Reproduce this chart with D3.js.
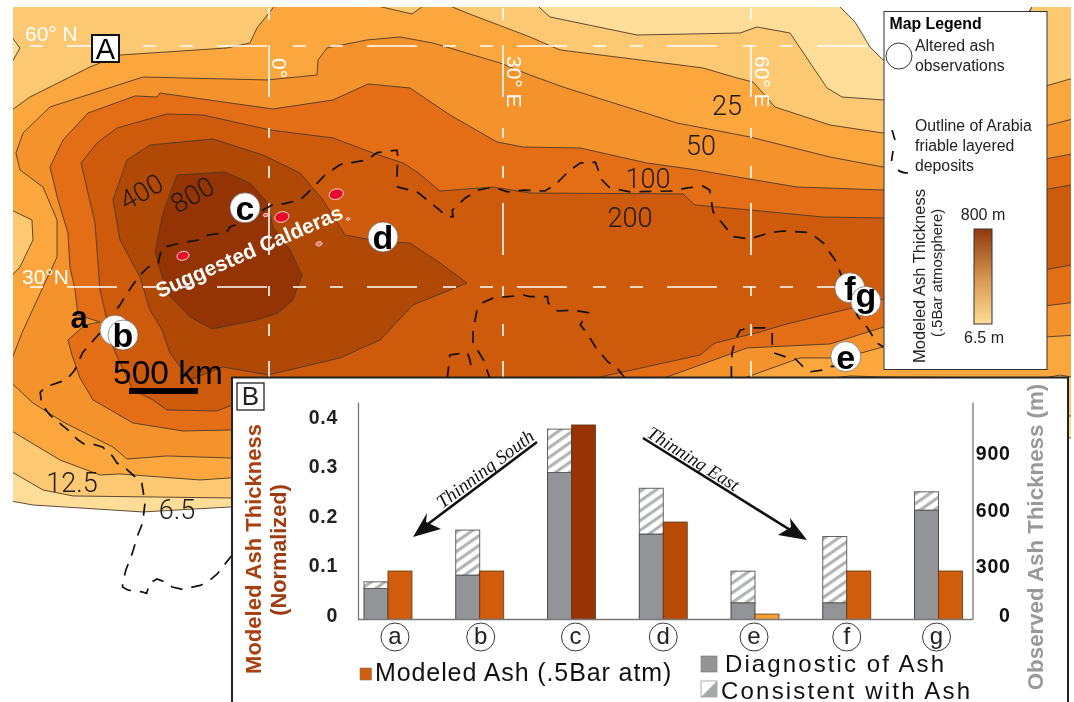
<!DOCTYPE html>
<html>
<head>
  <meta charset="utf-8">
  <title>Modeled Ash Thickness</title>
  <script src="https://d3js.org/d3.v7.min.js"></script>
  <style>
    html, body { margin: 0; padding: 0; background: #fff; }
    svg { display: block; font-family: "Liberation Sans", sans-serif; filter: blur(0.4px); }
    .axis text { font-family: "Liberation Sans", sans-serif; }
  </style>
</head>
<body>
<div id="chart"></div>
<script>

// Panel B values
var sites = ["a", "b", "c", "d", "e", "f", "g"];
var modeled = [0.098, 0.098, 0.393, 0.197, 0.011, 0.098, 0.098];
var diagnostic = [165, 236, 781, 454, 89, 89, 581];
var consistent = [35, 239, 230, 243, 168, 352, 97];
var leftTicks = [0, 0.1, 0.2, 0.3, 0.4];
var rightTicks = [0, 300, 600, 900];

// Panel A contours, [lon, lat] in degrees, thinnest first
var contourLevels = ["6.5", "12.5", "25", "50", "100", "200", "400", "800"];
var contourColors = ["#fedd98", "#fdc872", "#fba73e", "#f4922c", "#e36e16", "#ce5a0b", "#b04806", "#943304"];

var contour6 = [[-33,3.38],[-29.5,2.75],[-15.75,1.88],[-4.88,2.5],[41.38,3.38],[101,11.25],[101,66],[95.75,66],[95.25,64.75],[91.38,60.88],[76.75,58.38],[75.13,60],[73.25,63.13],[70.38,66],[-33,66]];
var contour12 = [[-33,7.38],[-28.25,4.63],[-24.5,3.88],[-4.88,3.63],[41.38,5.88],[101,14],[101,66],[95.75,66],[95.25,64.75],[91.38,58.38],[76.75,53.38],[71.63,53.75],[69.75,54.88],[65.13,61.75],[61,62.5],[58.88,61.75],[46,61.5],[35.13,63.75],[32.63,66],[-33,66],[-33,62.38],[-31.13,59.88],[-33,56.5]];
var contour25 = [[-33,12.5],[-26.13,8.38],[-21.13,6.5],[-18.63,6.63],[-8.63,5.88],[-4.88,6.13],[53.88,13.38],[66.38,18.13],[72.63,18.88],[76.75,18.75],[97,18.63],[98.88,19],[101,18.63],[101,56.25],[76.75,49.25],[70.13,50.25],[63.25,52.5],[60.5,55.63],[58.5,56.13],[54.25,57.38],[46.38,58.38],[36.38,59.63],[32.63,61.25],[24.75,64.25],[20.5,66],[17.88,64.13],[9.75,66],[1.38,66],[-1.5,62.38],[-2.38,60.5],[-5.25,59.88],[-18.63,59],[-22.38,57.5],[-29.88,53.75],[-33,51.5],[-33,40],[-29.63,38.38],[-29.5,35.88],[-31.13,32.5],[-33,30.5]];
var contour50 = [[-33,18.75],[-29.5,15.5],[-25.75,13.13],[-19.5,10],[-17.75,8.5],[-12.75,8.88],[-4.88,8.63],[53.88,15.88],[59.75,18.75],[66.38,21.13],[71.75,21.13],[76.75,22.5],[101,24],[101,51.13],[76.75,45],[70.13,46.25],[60.13,48.75],[51,50.5],[36.75,55],[32.63,56.5],[28.88,58],[20.5,60.5],[16.38,61.25],[12.25,60.88],[7.25,59.88],[6.13,58.38],[6,56.5],[-0.25,55.88],[-15.75,56.25],[-27.38,52.5],[-30.75,49.25],[-31.63,46.75],[-31.13,44.63],[-28.25,42.5],[-26.5,38.38],[-26.5,33.75],[-28.25,30],[-30.88,24.25]];
var contour100 = [[-27.38,45],[-25.75,48.38],[-22.63,51.75],[-16.75,53.88],[-14,53.75],[-13.63,54.25],[0.5,52.25],[8,53.38],[12.38,55.38],[17.63,54.88],[22.63,51.5],[28.5,48.13],[31.75,47.5],[38.88,47.38],[47.25,45.5],[53.5,44.63],[59.25,43.63],[66,42.5],[76.75,42.13],[101,46.75],[101,28.13],[77.63,25.25],[70.13,22.88],[59.75,22.38],[49.75,18.75],[41.38,15.88],[-4.88,12.13],[-10.75,12],[-17,13],[-22,15.88],[-23.63,18.63],[-24.63,21.5],[-25.13,23.38],[-23,25.25],[-21.13,25.63],[-23.88,26.5],[-24.25,29.63],[-24.88,32.5],[-25.13,36.75],[-26.38,40.88]];
var contour200 = [[-23.5,45.5],[-21.5,48],[-19,49.88],[-12.75,51.63],[-8.25,51.5],[0.13,49.63],[8,48.63],[13,46.75],[16.75,45.5],[18.5,44.38],[21.38,42],[28,42.5],[32.63,41.75],[51.75,41.63],[53.25,40.25],[60.13,39.63],[69.25,38.75],[76.75,38.63],[101,42.88],[101,32.88],[76.38,28.38],[72.88,27.38],[64.25,25.25],[61.38,24.38],[55.75,23],[53.88,21.5],[41.38,18.75],[35.13,16.5],[-4.63,15.25],[-6.5,14.5],[-12.75,14.63],[-14.5,15.88],[-17,17.13],[-18.63,20.5],[-19.5,22.5],[-20.25,25.88],[-21.13,29.63],[-21.75,38]];
var contour400 = [[-19.5,40.88],[-17.75,45.88],[-14.88,47.75],[-7,48.5],[-0.75,46.5],[3.88,44.25],[6.75,40.88],[9.5,36.5],[14.25,35.63],[17.63,35.5],[21.38,33],[24.75,30.5],[18,27.75],[13.88,23.38],[8.88,21.13],[-0.13,19],[-5.75,20],[-9.88,18.38],[-12.38,21.75],[-13.38,24.63],[-14.88,27.13],[-16.13,31.25],[-18.63,35.88]];
var contour800 = [[-14.25,34.38],[-13.25,39.25],[-11.5,44],[-5.5,44.38],[-2.38,43],[-0.25,40.63],[0.5,37.5],[2.63,34.63],[4.13,31.5],[3,28.38],[1.13,26.75],[-1.5,25.88],[-7.13,24.75],[-9.88,26.25],[-12.75,29.25],[-13.88,33.13]];
var contours = [contour6, contour12, contour25, contour50, contour100, contour200, contour400, contour800];

// Outline of the Arabia friable layered deposits, in pieces
var outlineMain = [[-4.6,-3.5],[-5.8,-5],[-6.5,-5.9],[-7.6,-6.8],[-8.6,-7.3],[-10.8,-7.8],[-12.1,-7.5],[-12.9,-6.9],[-14,-6.5],[-14.9,-7],[-15.3,-8.3],[-15.9,-8.1],[-17.6,-7.9],[-18.3,-7.5],[-18.3,-7],[-17.9,-5.4],[-17.1,-3.3],[-16.4,-1],[-15.8,0.5],[-15.5,3],[-15.9,5.5],[-17,6.5],[-18,7.4],[-19,8],[-19.6,8.9],[-20.8,10],[-21.8,10.3],[-23,10.3],[-23.9,10.9],[-25.1,12.1],[-27.4,14],[-28.4,15.3],[-28.6,16.8],[-28,17.5],[-25.3,18.4],[-24.3,19.6],[-23.3,21.8],[-21.1,24.3],[-18.6,27.8],[-18,28.8],[-17,30.3],[-16.1,31.5],[-15.1,32.5],[-13.9,32.8],[-13.4,34.9],[-11.1,35.5],[-8.6,35.9],[-7.6,36.5],[-5.3,36.8],[-4.9,37.5],[-3.9,37.9],[-0.8,39.6],[0.5,40.3],[1.8,40.4],[3.9,40.9],[5.5,42.4],[7,44],[8.9,45.3],[12.3,45.9],[13.5,46.8],[16,47.1],[16.1,46.3],[16,44],[16.1,42.5],[18.5,41.9],[20.5,40.3],[22.3,38.8],[23,38.8],[22.9,39.6],[24.5,41.1],[26.1,42.1],[28,42.5],[29.8,41.9],[31.8,42.1],[34.5,42],[35.8,42.8],[37.6,44.6],[38.9,45.5],[40.8,45.6],[41.6,43.4],[42.6,42.4],[45.1,41.9],[50.5,42],[52.3,42.4],[54.3,42.6],[55.1,42.1],[55.5,39.4],[58,36.3],[60.1,36],[62.6,36.8],[64.3,37],[67.6,36.8],[69.3,35.5],[71,33],[71.4,31.8],[73.6,26.3],[74.8,24.9],[76,23],[76.8,22.5]];
var outlineEast = [[57.8,18.6],[57.8,20.6],[57.9,21.9],[58.3,23.4],[58.9,24.6],[60.1,24.9],[62,24.9],[62.9,24.4],[62.9,23],[63,21.8],[64.5,21.3],[65.8,21],[66.8,20],[67.6,19.4],[69.1,19.6],[70.4,20.1],[71.8,20]];
var outlineIsland = [[44.5,18.6],[43.5,19.9],[42.4,20.6],[40.8,22.5],[39.9,24],[38.9,25.3],[39.9,26.8],[37.9,27.1],[36.1,27],[34.9,28],[34.8,28.8],[32.6,28.8],[31.8,29],[28,28.6],[26.8,28.1],[26,27.1],[25.5,24.6],[25.5,23],[26.8,20.9],[27.6,18.6]];
var outlineSmall = [[22.3,18.6],[22.4,19.6],[22.6,21.5],[24.8,21.8],[25.1,20.9],[25.4,19.4]];
var outlines = [outlineMain, outlineEast, outlineIsland, outlineSmall];

// Observation sites and calderas
var siteLon = [-19.25, -18.25, -3, 14.25, 72.1, 72.6, 74.6];
var siteLat = [24.6, 24, 39.9, 36.25, 21.3, 29.9, 28.2];
var calderaLon = [-10.75, 1.6, 8.4, -0.4, 6.25, 9.9];
var calderaLat = [33.9, 38.75, 41.6, 39, 35.4, 38.5];
var calderaKm = [42, 50, 50, 16, 20, 12];

// Graticule
var gridLon = [0, 29.25, 60.25];
var gridLat = [30, 60.13];

var svg = d3.select("#chart").append("svg").attr("width", 1074).attr("height", 702);
var defs = svg.append("defs");

// ---- Panel A: the map
var mapX = d3.scaleLinear().domain([0, 60]).range([269, 749]);
var mapY = d3.scaleLinear().domain([30, 60]).range([287, 47]);
var project = function (p) { return [mapX(p[0]), mapY(p[1])]; };
var line = d3.line();

defs.append("clipPath").attr("id", "mapClip").append("rect")
  .attr("x", 13).attr("y", 7).attr("width", 1058).attr("height", 600);

var map = svg.append("g").attr("clip-path", "url(#mapClip)");

map.selectAll(".contour")
  .data(contours)
  .enter().append("path")
  .attr("class", "contour")
  .attr("d", function (d) { return line(d.map(project)) + "Z"; })
  .attr("fill", function (d, i) { return contourColors[i]; })
  .attr("stroke", "#4d3a28")
  .attr("stroke-width", 0.9);

// white dashed graticule
gridLat.forEach(function (lat) {
  map.append("line")
    .attr("x1", -83).attr("x2", 883)
    .attr("y1", mapY(lat)).attr("y2", mapY(lat))
    .attr("stroke", "#fff").attr("stroke-width", 1.6)
    .attr("stroke-dasharray", "50,26,13,24,13,24");
});
gridLon.forEach(function (lon) {
  map.append("line")
    .attr("x1", mapX(lon)).attr("x2", mapX(lon))
    .attr("y1", -113).attr("y2", 378)
    .attr("stroke", "#fff").attr("stroke-width", 1.6)
    .attr("stroke-dasharray", "52,31,10,28,12,25");
});

map.selectAll(".outline")
  .data(outlines)
  .enter().append("path")
  .attr("class", "outline")
  .attr("d", function (d) { return line(d.map(project)); })
  .attr("fill", "none")
  .attr("stroke", "#111")
  .attr("stroke-width", 1.7)
  .attr("stroke-dasharray", "12,9");

// calderas, 500 km is 69 px on the scale bar
var kmScale = d3.scaleLinear().domain([0, 500]).range([0, 69]);
svg.selectAll(".caldera")
  .data(calderaLon)
  .enter().append("ellipse")
  .attr("class", "caldera")
  .attr("transform", function (d, i) {
    return "translate(" + mapX(d) + "," + mapY(calderaLat[i]) + ") rotate(-15)";
  })
  .attr("rx", function (d, i) { return kmScale(calderaKm[i]) + 0.3; })
  .attr("ry", function (d, i) { return kmScale(calderaKm[i]) * 0.75; })
  .attr("fill", function (d, i) { return calderaKm[i] > 30 ? "#e8062c" : "#e96a6a"; })
  .attr("stroke", "#ffd9d9")
  .attr("stroke-width", 0.9);

svg.append("text")
  .attr("transform", "translate(252,258) rotate(-23.5)")
  .attr("text-anchor", "middle")
  .attr("fill", "#fff").attr("font-weight", "bold").attr("font-size", 21)
  .text("Suggested Calderas");

// contour value labels
var contourLabels = [
  { t: "6.5", x: 177, y: 519, r: 0 },
  { t: "12.5", x: 72, y: 492, r: 0 },
  { t: "25", x: 727, y: 115, r: 0 },
  { t: "50", x: 701, y: 155, r: 0 },
  { t: "100", x: 648, y: 188, r: 0 },
  { t: "200", x: 630, y: 227, r: 0 },
  { t: "400", x: 146, y: 200, r: -29 },
  { t: "800", x: 197, y: 203, r: -29 }
];
svg.selectAll(".clabel")
  .data(contourLabels)
  .enter().append("text")
  .attr("class", "clabel")
  .attr("transform", function (d) { return "translate(" + d.x + "," + d.y + ") rotate(" + d.r + ")"; })
  .attr("text-anchor", "middle")
  .attr("fill", "#1d1a17")
  .attr("font-family", "Roboto")
  .attr("font-weight", 300)
  .attr("font-size", 27)
  .text(function (d) { return d.t; });

// lat / lon labels
var geoLabels = [
  { t: "60° N", x: 25, y: 41, r: 0 },
  { t: "30°N", x: 22, y: 284, r: 0 },
  { t: "0°", x: 272, y: 58, r: 90 },
  { t: "30° E", x: 507, y: 56, r: 90 },
  { t: "60° E", x: 755, y: 56, r: 90 }
];
svg.selectAll(".glabel")
  .data(geoLabels)
  .enter().append("text")
  .attr("class", "glabel")
  .attr("transform", function (d) { return "translate(" + d.x + "," + d.y + ") rotate(" + d.r + ")"; })
  .attr("fill", "#fff")
  .attr("font-size", 21)
  .text(function (d) { return d.t; });

// site markers
svg.selectAll(".site")
  .data(sites)
  .enter().append("circle")
  .attr("class", "site")
  .attr("cx", function (d, i) { return mapX(siteLon[i]); })
  .attr("cy", function (d, i) { return mapY(siteLat[i]); })
  .attr("r", 15)
  .attr("fill", "#fff")
  .attr("stroke", "#666")
  .attr("stroke-width", 0.7);
svg.selectAll(".siteLabel")
  .data(sites)
  .enter().append("text")
  .attr("class", "siteLabel")
  .attr("x", function (d, i) { return d === "a" ? 79 : mapX(siteLon[i]); })
  .attr("y", function (d, i) {
    if (d === "a") return 328;
    return mapY(siteLat[i]) + (d === "g" ? 6 : 12);
  })
  .attr("text-anchor", "middle")
  .attr("font-size", function (d) { return d === "a" ? 31 : 34; })
  .attr("font-weight", "bold").attr("fill", "#000")
  .text(function (d) { return d; });

// panel letter A
svg.append("rect").attr("x", 92).attr("y", 35).attr("width", 27).attr("height", 27)
  .attr("fill", "#fff").attr("stroke", "#111").attr("stroke-width", 2);
svg.append("text").attr("x", 105.5).attr("y", 59).attr("text-anchor", "middle")
  .attr("font-size", 29).text("A");

// scale bar
svg.append("text").attr("x", 113).attr("y", 384).attr("font-size", 33.5).attr("fill", "#000").text("500 km");
svg.append("rect").attr("x", 129).attr("y", 388).attr("width", kmScale(500)).attr("height", 6).attr("fill", "#000");

// ---- Map legend
var grad = defs.append("linearGradient").attr("id", "ashRamp")
  .attr("x1", 0).attr("x2", 0).attr("y1", 1).attr("y2", 0);
grad.append("stop").attr("offset", "0%").attr("stop-color", "#fedd98");
grad.append("stop").attr("offset", "45%").attr("stop-color", "#d99a55");
grad.append("stop").attr("offset", "100%").attr("stop-color", "#8f3a0c");

var legend = svg.append("g");
legend.append("rect").attr("x", 884).attr("y", 11.5).attr("width", 163).attr("height", 358)
  .attr("fill", "#fff").attr("stroke", "#333").attr("stroke-width", 1);
legend.append("text").attr("x", 889.5).attr("y", 29).attr("font-size", 15.8).attr("font-weight", "bold").text("Map Legend");
legend.append("circle").attr("cx", 899).attr("cy", 56).attr("r", 13)
  .attr("fill", "#fff").attr("stroke", "#222").attr("stroke-width", 0.9);
var legendLines = [
  { t: "Altered ash", y: 51 },
  { t: "observations", y: 71 },
  { t: "Outline of Arabia", y: 131 },
  { t: "friable layered", y: 151 },
  { t: "deposits", y: 171 }
];
legend.selectAll(".ltext")
  .data(legendLines)
  .enter().append("text")
  .attr("class", "ltext")
  .attr("x", 915).attr("y", function (d) { return d.y; })
  .attr("font-size", 15.8).attr("fill", "#222")
  .text(function (d) { return d.t; });
legend.append("path")
  .attr("d", "M892,130L895,140M893,151L891.5,161M898,170Q902,173 908,173")
  .attr("fill", "none").attr("stroke", "#111").attr("stroke-width", 1.7);
legend.append("text").attr("transform", "translate(925,363) rotate(-90)")
  .attr("font-size", 16.5).attr("fill", "#222").text("Modeled Ash Thickness");
legend.append("text").attr("transform", "translate(942,337) rotate(-90)")
  .attr("font-size", 14.9).attr("fill", "#222").text("(.5Bar atmosphere)");
legend.append("text").attr("x", 983).attr("y", 220).attr("text-anchor", "middle")
  .attr("font-size", 16).attr("fill", "#222").text("800 m");
legend.append("text").attr("x", 984).attr("y", 343).attr("text-anchor", "middle")
  .attr("font-size", 16).attr("fill", "#222").text("6.5 m");
legend.append("rect").attr("x", 974).attr("y", 229).attr("width", 18).attr("height", 95)
  .attr("fill", "url(#ashRamp)").attr("stroke", "#333").attr("stroke-width", 1);

// ---- Panel B: the bars
svg.append("rect").attr("x", 232).attr("y", 377.5).attr("width", 836).attr("height", 340)
  .attr("fill", "#fff").attr("stroke", "#222").attr("stroke-width", 2);
svg.append("rect").attr("x", 237).attr("y", 383).attr("width", 27).attr("height", 27)
  .attr("fill", "#fff").attr("stroke", "#222").attr("stroke-width", 1.3);
svg.append("text").attr("x", 250.5).attr("y", 405).attr("text-anchor", "middle")
  .attr("font-size", 26).attr("fill", "#222").text("B");

var hatch = defs.append("pattern").attr("id", "hatch")
  .attr("width", 8).attr("height", 8)
  .attr("patternUnits", "userSpaceOnUse")
  .attr("patternTransform", "rotate(-35)");
hatch.append("rect").attr("width", 8).attr("height", 8).attr("fill", "#fff");
hatch.append("rect").attr("width", 8).attr("height", 3.2).attr("fill", "#b2b4b6");

var x = d3.scaleBand().domain(sites).range([342.1, 984.4]);
var yLeft = d3.scaleLinear().domain([0, 0.4394]).range([619.5, 402]);
var yRight = d3.scaleLinear().domain([0, 1155]).range([619.5, 402]);
var modeledColor = d3.scaleThreshold().domain([0.05, 0.15, 0.3]).range(["#f5a033", "#d05c0c", "#b84a05", "#983305"]);
var barW = 24;

var bars = svg.append("g");
bars.selectAll(".diag")
  .data(sites)
  .enter().append("rect")
  .attr("class", "diag")
  .attr("x", function (d) { return x(d) + x.bandwidth() / 2 - barW; })
  .attr("width", barW)
  .attr("y", function (d, i) { return yRight(diagnostic[i]); })
  .attr("height", function (d, i) { return yRight(0) - yRight(diagnostic[i]); })
  .attr("fill", "#929497").attr("stroke", "#3c3c3c").attr("stroke-width", 0.9);
bars.selectAll(".cons")
  .data(sites)
  .enter().append("rect")
  .attr("class", "cons")
  .attr("x", function (d) { return x(d) + x.bandwidth() / 2 - barW; })
  .attr("width", barW)
  .attr("y", function (d, i) { return yRight(diagnostic[i] + consistent[i]); })
  .attr("height", function (d, i) { return yRight(diagnostic[i]) - yRight(diagnostic[i] + consistent[i]); })
  .attr("fill", "url(#hatch)").attr("stroke", "#555").attr("stroke-width", 0.9);
bars.selectAll(".model")
  .data(sites)
  .enter().append("rect")
  .attr("class", "model")
  .attr("x", function (d) { return x(d) + x.bandwidth() / 2; })
  .attr("width", barW)
  .attr("y", function (d, i) { return yLeft(modeled[i]); })
  .attr("height", function (d, i) { return yLeft(0) - yLeft(modeled[i]); })
  .attr("fill", function (d, i) { return modeledColor(modeled[i]); })
  .attr("stroke", "#5a3a20").attr("stroke-width", 0.8);

// axes
var leftAxis = svg.append("g").attr("class", "axis")
  .attr("transform", "translate(358,0)")
  .call(d3.axisLeft(yLeft).tickValues(leftTicks).tickSize(0).tickPadding(20)
    .tickFormat(function (d) { return d; }));
var rightAxis = svg.append("g").attr("class", "axis")
  .attr("transform", "translate(972.5,0)")
  .call(d3.axisRight(yRight).tickValues(rightTicks).tickSize(0).tickPadding(38));
svg.selectAll(".axis .domain").attr("stroke", "#777").attr("stroke-width", 1.3);
svg.selectAll(".axis text")
  .attr("font-size", 19.5).attr("font-weight", "bold").attr("fill", "#222")
  .attr("letter-spacing", 0.7).attr("dy", "0.1em");
rightAxis.selectAll("text")
  .attr("text-anchor", "end").attr("fill", "#111")
  .attr("dy", function (d) { return d === 0 ? "0.1em" : "0.5em"; });
svg.append("line").attr("x1", 358).attr("x2", 972.5)
  .attr("y1", yLeft(0)).attr("y2", yLeft(0))
  .attr("stroke", "#777").attr("stroke-width", 1.3);

// circled site letters under the bars, hand placed a little off the band centres
var labelNudge = [7, 1, 4, 0, -1, 0, -2];
var siteAxis = svg.append("g").attr("class", "siteAxis")
  .attr("transform", "translate(0,623)")
  .call(d3.axisBottom(x).tickSize(0).tickPadding(4));
siteAxis.select(".domain").remove();
siteAxis.selectAll(".tick")
  .attr("transform", function (d, i) {
    return "translate(" + (x(d) + x.bandwidth() / 2 + labelNudge[i]) + ",0)";
  });
siteAxis.selectAll(".tick text")
  .attr("font-family", "Liberation Sans")
  .attr("font-size", 24).attr("fill", "#222");
siteAxis.selectAll(".tick").append("circle")
  .attr("cy", 14).attr("r", 14)
  .attr("fill", "none").attr("stroke", "#222").attr("stroke-width", 0.9);

// axis titles
svg.append("text").attr("transform", "translate(261,549) rotate(-90)")
  .attr("text-anchor", "middle").attr("font-size", 22).attr("font-weight", "bold")
  .attr("fill", "#a8400f").text("Modeled Ash Thickness");
svg.append("text").attr("transform", "translate(286,550) rotate(-90)")
  .attr("text-anchor", "middle").attr("font-size", 21.7).attr("font-weight", "bold")
  .attr("fill", "#9c3c10").text("(Normalized)");
svg.append("text").attr("transform", "translate(1043,537) rotate(-90)")
  .attr("text-anchor", "middle").attr("font-size", 22.3).attr("font-weight", "bold")
  .attr("fill", "#98999b").text("Observed Ash Thickness (m)");

// thinning arrows
var arrows = [
  { d: "M537,442L424,527", tip: "M413,537L427,513L426,522L441,529Z" },
  { d: "M643,438L795,533", tip: "M807,540L790,518L791,527L778,535Z" }
];
svg.selectAll(".arrow")
  .data(arrows)
  .enter().append("path")
  .attr("class", "arrow")
  .attr("d", function (d) { return d.d; })
  .attr("stroke", "#111").attr("stroke-width", 2.6).attr("fill", "none");
svg.selectAll(".arrowHead")
  .data(arrows)
  .enter().append("path")
  .attr("class", "arrowHead")
  .attr("d", function (d) { return d.tip; })
  .attr("fill", "#111");
svg.append("text").attr("transform", "translate(489,474) rotate(-37)")
  .attr("text-anchor", "middle").attr("font-family", "Liberation Serif").attr("font-style", "italic")
  .attr("font-size", 19).attr("fill", "#111").text("Thinning South");
svg.append("text").attr("transform", "translate(690,464) rotate(32)")
  .attr("text-anchor", "middle").attr("font-family", "Liberation Serif").attr("font-style", "italic")
  .attr("font-size", 18.5).attr("fill", "#111").text("Thinning East");

// bar legend
svg.append("rect").attr("x", 360).attr("y", 668).attr("width", 11.5).attr("height", 12)
  .attr("fill", "#d05c0c").attr("stroke", "#777").attr("stroke-width", 0.6);
svg.append("text").attr("x", 375).attr("y", 681).attr("font-size", 25).attr("letter-spacing", 0.9).attr("fill", "#111")
  .text("Modeled Ash (.5Bar atm)");
svg.append("rect").attr("x", 701).attr("y", 656).attr("width", 16).attr("height", 16)
  .attr("fill", "#929497").attr("stroke", "#777").attr("stroke-width", 0.6);
svg.append("text").attr("x", 725).attr("y", 671.5).attr("font-size", 24).attr("letter-spacing", 2.1)
  .attr("fill", "#111").text("Diagnostic of Ash");
svg.append("rect").attr("x", 701).attr("y", 681).attr("width", 16).attr("height", 16)
  .attr("fill", "#fff").attr("stroke", "#777").attr("stroke-width", 0.6);
svg.append("path").attr("d", "M701,697L717,681V697Z").attr("fill", "#a6a8aa");
svg.append("text").attr("x", 721).attr("y", 698.5).attr("font-size", 24).attr("letter-spacing", 2.2)
  .attr("fill", "#111").text("Consistent with Ash");

</script>
</body>
</html>
